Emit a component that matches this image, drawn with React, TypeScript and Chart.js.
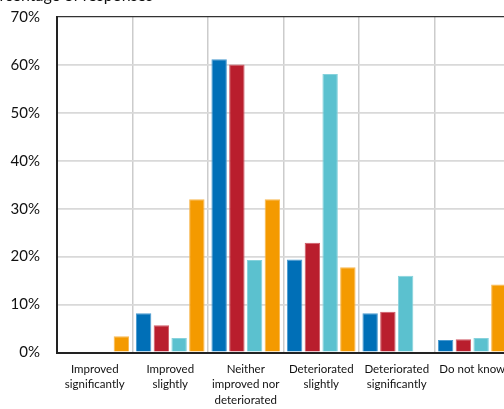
import React, { useEffect, useRef } from "react";
import { Chart, registerables } from "chart.js";

Chart.register(...registerables);

const categories: string[][] = [
  ["Improved", "significantly"],
  ["Improved", "slightly"],
  ["Neither", "improved nor", "deteriorated"],
  ["Deteriorated", "slightly"],
  ["Deteriorated", "significantly"],
  ["Do not know"],
];

const seriesBlue = [0, 8.2, 61.2, 19.4, 8.2, 2.6];
const seriesRed = [0, 5.7, 60.1, 22.9, 8.5, 2.75];
const seriesCyan = [0, 3.0, 19.3, 58.1, 16.0, 3.0];
const seriesOrange = [3.4, 32.0, 32.0, 17.8, 0, 14.2];

const yTicks = [0, 10, 20, 30, 40, 50, 60, 70];
const yAxisTitle = "Percentage of responses";

const FONT = "Lato, 'Open Sans', sans-serif";

export default function App() {
  const ref = useRef<HTMLCanvasElement | null>(null);

  useEffect(() => {
    document.body.style.margin = "0";
    document.body.style.overflow = "hidden";
    document.documentElement.style.overflow = "hidden";
    const canvas = ref.current;
    if (!canvas) return;

    const titlePlugin = {
      id: "cutTitle",
      afterDraw(chart: any) {
        const ctx = chart.ctx;
        ctx.save();
        ctx.font = `16px ${FONT}`;
        ctx.fillStyle = "#111";
        ctx.textAlign = "right";
        ctx.textBaseline = "alphabetic";
        ctx.fillText(yAxisTitle, 153, 1);
        ctx.restore();
      },
    };

    const mk = (label: string, data: number[], color: string, edge: string) => ({
      label,
      data,
      backgroundColor: color,
      borderColor: edge,
      borderWidth: 1,
      borderSkipped: "start" as const,
      categoryPercentage: 0.94,
      barPercentage: 0.87,
    });

    const chart = new Chart(canvas, {
      type: "bar",
      data: {
        labels: categories,
        datasets: [
          mk("Blue", seriesBlue, "#006fb7", "#4a9ad0"),
          mk("Red", seriesRed, "#b91e2d", "#cf5a65"),
          mk("Cyan", seriesCyan, "#5bc1cf", "#86d2dc"),
          mk("Orange", seriesOrange, "#f49a00", "#f8b850"),
        ],
      },
      options: {
        animation: false,
        responsive: true,
        maintainAspectRatio: false,
        layout: { padding: { top: 17, right: 10, left: 0, bottom: 0 } },
        plugins: {
          legend: { display: false },
          tooltip: { enabled: false },
        },
        scales: {
          x: {
            grid: {
              offset: true,
              color: "#cccccc",
              lineWidth: 1.5,
              drawTicks: false,
            },
            border: { color: "#222", width: 2 },
            ticks: {
              color: "#111",
              font: { family: FONT, size: 11.5, lineHeight: 1.35 },
              padding: 9,
              maxRotation: 0,
              autoSkip: false,
            },
            afterFit(scale: any) {
              scale.height = 56.5;
              scale.paddingLeft = 0;
              scale.paddingRight = 0;
            },
          },
          y: {
            min: 0,
            max: 70,
            afterBuildTicks(scale: any) {
              scale.ticks = yTicks.map((v) => ({ value: v }));
            },
            grid: {
              color: (c: any) => (c.tick && c.tick.value === 70 ? "#333" : "#d9d9d9"),
              lineWidth: (c: any) => (c.tick && c.tick.value === 70 ? 1.2 : 1.8),
              drawTicks: false,
            },
            border: { color: "#222", width: 2 },
            ticks: {
              color: "#111",
              font: { family: FONT, size: 15 },
              padding: 17,
              callback: (v: any) => `${v}%`,
            },
            afterFit(scale: any) {
              scale.width = 57;
              scale.paddingTop = 0;
              scale.paddingBottom = 0;
            },
          },
        },
      },
      plugins: [titlePlugin],
    });

    return () => chart.destroy();
  }, []);

  return (
    <div style={{ width: 504, height: 409, overflow: "hidden", position: "relative" }}>
      <div style={{ width: 520, height: 409, position: "absolute", left: 0, top: 0 }}>
        <canvas ref={ref} />
      </div>
    </div>
  );
}
